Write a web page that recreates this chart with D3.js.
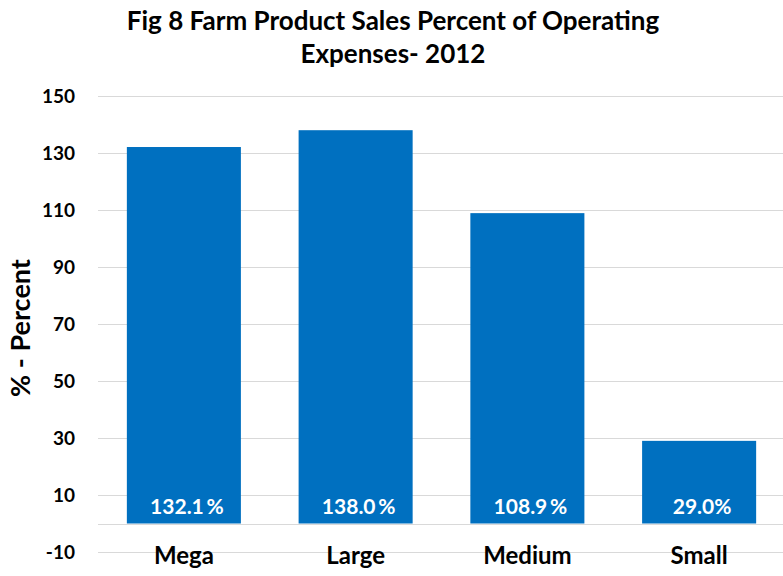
<!DOCTYPE html>
<html>
<head>
<meta charset="utf-8">
<script src="https://cdn.jsdelivr.net/npm/d3@7"></script>
<style>
  body { margin: 0; background: #fff; }
  svg text { font-family: Lato, "Open Sans", sans-serif; font-weight: bold; }
</style>
</head>
<body>
<div id="chart"></div>
<script>
// Data
const categories = ["Mega", "Large", "Medium", "Small"];
const values = [132.1, 138.0, 108.9, 29.0];
const valueLabels = ["132.1\u2009%", "138.0\u2009%", "108.9\u2009%", "29.0%"];
const yTicks = [-10, 10, 30, 50, 70, 90, 110, 130, 150];
const titleLines = ["Fig 8 Farm Product Sales Percent of Operating", "Expenses- 2012"];

// Sizes
const w = 783;
const h = 576;
const plotLeft = 98;
const plotRight = 785;
const plotTop = 96;
const plotBottom = 552;

const svg = d3.select("#chart").append("svg")
              .attr("width", w)
              .attr("height", h);

// scales
const xScale = d3.scaleBand()
                 .domain(categories)
                 .range([plotLeft, plotRight])
                 .paddingInner(0.336)
                 .paddingOuter(0.168);
const yScale = d3.scaleLinear()
                 .domain([-10, 150])
                 .range([plotBottom, plotTop]);

// gridlines
svg.append("g")
   .selectAll("line")
   .data(yTicks)
   .enter()
   .append("line")
   .attr("x1", plotLeft)
   .attr("x2", w)
   .attr("y1", d => Math.round(yScale(d)) + 0.5)
   .attr("y2", d => Math.round(yScale(d)) + 0.5)
   .style("stroke", "#d9d9d9")
   .style("stroke-width", 1);

// zero line
svg.append("line")
   .attr("x1", plotLeft)
   .attr("x2", w)
   .attr("y1", Math.round(yScale(0)) + 0.5)
   .attr("y2", Math.round(yScale(0)) + 0.5)
   .style("stroke", "#d9d9d9");

// y axis labels (plain hyphen for negatives, as in the original)
const yAxis = d3.axisLeft(yScale)
                .tickValues(yTicks)
                .tickFormat(d => String(d))
                .tickSize(0)
                .tickPadding(0);
svg.append("g")
   .attr("transform", "translate(75,0)")
   .call(yAxis)
   .call(g => g.select(".domain").remove())
   .selectAll("text")
   .style("font-size", "19px")
   .style("font-family", "Lato, sans-serif")
   .style("font-weight", "bold")
   .attr("fill", "#000");

// bars
svg.selectAll("rect.bar")
   .data(values)
   .enter()
   .append("rect")
   .attr("class", "bar")
   .attr("x", (d, i) => xScale(categories[i]))
   .attr("y", d => yScale(d))
   .attr("width", xScale.bandwidth())
   .attr("height", d => yScale(0) - yScale(d))
   .style("fill", "#0070c0");

// value labels inside bars
svg.selectAll("text.value")
   .data(valueLabels)
   .enter()
   .append("text")
   .attr("class", "value")
   .attr("x", (d, i) => xScale(categories[i]) + xScale.bandwidth() / 2 + 3)
   .attr("y", yScale(0) - 10)
   .attr("text-anchor", "middle")
   .style("font-size", "21px")
   .style("fill", "#fff")
   .text(d => d);

// x axis labels
const xAxis = d3.axisBottom(xScale).tickSize(0).tickPadding(0);
svg.append("g")
   .attr("transform", "translate(0,547)")
   .call(xAxis)
   .call(g => g.select(".domain").remove())
   .selectAll("text")
   .style("font-size", "24px")
   .style("font-family", "Lato, sans-serif")
   .style("font-weight", "bold")
   .attr("fill", "#000");

// y axis title
svg.append("text")
   .attr("transform", "translate(30," + (yScale(70) + 4) + ") rotate(-90)")
   .attr("text-anchor", "middle")
   .style("font-size", "27px")
   .text("% - Percent");

// title
svg.selectAll("text.title")
   .data(titleLines)
   .enter()
   .append("text")
   .attr("class", "title")
   .attr("x", 393)
   .attr("y", (d, i) => 30 + i * 33)
   .attr("text-anchor", "middle")
   .style("font-size", "26px")
   .text(d => d);
</script>
</body>
</html>
